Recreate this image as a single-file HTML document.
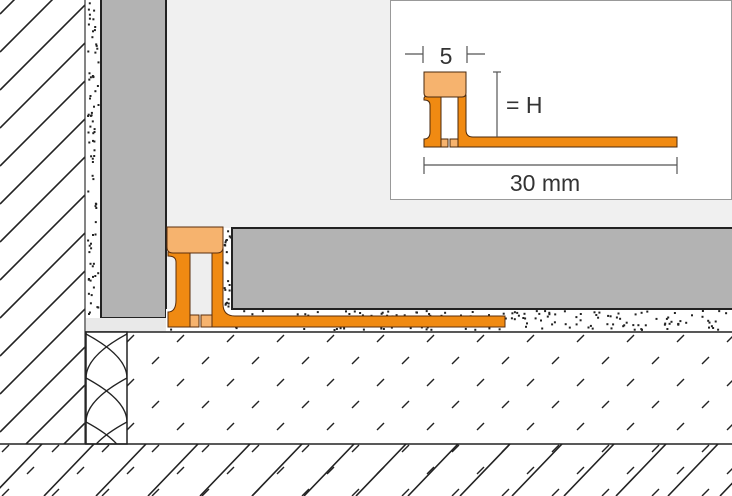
<!DOCTYPE html>
<html><head><meta charset="utf-8"><style>
html,body{margin:0;padding:0;background:#fff;width:732px;height:496px;overflow:hidden;}
svg{display:block;}
text{font-family:"Liberation Sans",sans-serif;fill:#333;}
</style></head><body>
<svg id="s" width="732" height="496" viewBox="0 0 732 496" xmlns="http://www.w3.org/2000/svg">
<defs>
<clipPath id="cw"><rect x="0" y="0" width="85" height="444"/></clipPath>
<clipPath id="cb"><rect x="0" y="444" width="732" height="52"/></clipPath>
<clipPath id="ci"><rect x="86" y="333" width="41" height="111"/></clipPath>
<pattern id="dash" x="0" y="0" width="50" height="44" patternUnits="userSpaceOnUse">
<line x1="2" y1="12" x2="9" y2="5" stroke="#222" stroke-width="1.4"/>
<line x1="27" y1="34" x2="34" y2="27" stroke="#222" stroke-width="1.4"/>
</pattern>
</defs>
<rect x="166" y="0" width="566" height="332" fill="#f0f0f0"/>
<rect x="0" y="0" width="85" height="444" fill="#fff"/>
<g clip-path="url(#cw)" stroke="#222" stroke-width="1.6" id="wallh"></g>
<line x1="85" y1="0" x2="85" y2="444" stroke="#333" stroke-width="1.2"/>
<rect x="86" y="0" width="14" height="318" fill="#fff"/>
<g id="dots"></g>
<rect x="101" y="-2" width="65" height="320" fill="#b3b3b3" stroke="#222" stroke-width="2"/>
<rect x="86" y="318" width="80" height="14" fill="#e9e9e9"/>
<rect x="166" y="309" width="566" height="22" fill="#fff"/>
<rect x="222" y="228" width="10" height="82" fill="#fff"/>
<g id="dots2"></g>
<rect x="232" y="228" width="502" height="81" fill="#b3b3b3" stroke="#222" stroke-width="2"/>
<rect x="127" y="332" width="605" height="112" fill="url(#dash)"/>
<line x1="85" y1="332" x2="732" y2="332" stroke="#222" stroke-width="1.5"/>
<rect x="86" y="332" width="41" height="112" fill="#fff" stroke="#222" stroke-width="1.5"/>
<g clip-path="url(#ci)" fill="none" stroke="#222" stroke-width="1.4" id="ins"></g>
<rect x="0" y="444" width="732" height="52" fill="url(#dash)"/>
<g clip-path="url(#cb)" stroke="#222" stroke-width="1.6" id="slabh"></g>
<line x1="0" y1="444" x2="732" y2="444" stroke="#222" stroke-width="1.5"/>

<g stroke="#5a2e0c" stroke-width="1">
<rect x="190" y="247" width="22" height="80" fill="#eeeeee" stroke="none"/>
<path d="M176 247 H190 V327 H168 V312 Q176 312 176 300 V262 Q176 256 168 256 V252 Q170 247 176 247Z" fill="#f08a12"/>
<path d="M212 247 H223 V304 Q223 316 235 316 H505 V327 H212Z" fill="#f08a12"/>
<rect x="190" y="315" width="9" height="12" fill="#f6b36e"/>
<rect x="201" y="315" width="11" height="12" fill="#f6b36e"/>
<path d="M167 227 H223 V247 Q223 253 217 253 H173 Q167 253 167 247Z" fill="#f6b36e"/>
</g>

<rect x="390.5" y="0.5" width="341" height="199" fill="#fff" stroke="#999"/>
<g stroke="#4a280c" stroke-width="1">
<rect x="441" y="95" width="17" height="52" fill="#fff" stroke="none"/>
<path d="M430 95 H441 V147 H424 V139 Q430 139 430 132 V105 Q430 100 424 100 V98 Q425 95 430 95Z" fill="#f08a12"/>
<path d="M458 95 H466 V130 Q466 137 473 137 H677 V147 H458Z" fill="#f08a12"/>
<rect x="441" y="139" width="7" height="8" fill="#f6b36e"/>
<rect x="450" y="139" width="8" height="8" fill="#f6b36e"/>
<path d="M424 72 H466 V93 Q466 97 462 97 H428 Q424 97 424 93Z" fill="#f6b36e"/>
</g>
<g stroke="#555" stroke-width="1.2" fill="none">
<line x1="405" y1="54" x2="423" y2="54"/><line x1="423" y1="46" x2="423" y2="63"/>
<line x1="467" y1="54" x2="485" y2="54"/><line x1="467" y1="46" x2="467" y2="63"/>
<line x1="497" y1="72" x2="497" y2="137"/><line x1="493" y1="72" x2="501" y2="72"/>
<line x1="424" y1="165" x2="677" y2="165"/><line x1="424" y1="157" x2="424" y2="174"/><line x1="677" y1="157" x2="677" y2="174"/>
</g>
<text x="446" y="64" font-size="23" text-anchor="middle">5</text>
<text x="506" y="113" font-size="23">= H</text>
<text x="545" y="191" font-size="23" text-anchor="middle">30 mm</text>
</svg>
<script>
var NS="http://www.w3.org/2000/svg";
function L(g,x1,y1,x2,y2){var l=document.createElementNS(NS,"line");l.setAttribute("x1",x1);l.setAttribute("y1",y1);l.setAttribute("x2",x2);l.setAttribute("y2",y2);g.appendChild(l);}
var w=document.getElementById("wallh");
for(var y=-100;y<560;y+=38){L(w,0,y,100,y-100);}
var b=document.getElementById("slabh");
for(var x=-60;x<800;x+=52){L(b,x,496,x+50,444);}
var ins=document.getElementById("ins");
var d="";
for(var y=290;y<460;y+=44){d+="M86 "+y+" Q127 "+(y+22)+" 127 "+(y+44)+" ";d+="M127 "+y+" Q86 "+(y+22)+" 86 "+(y+44)+" ";}
var p=document.createElementNS(NS,"path");p.setAttribute("d",d);ins.appendChild(p);
var seed=7;function r(){seed=(seed*9301+49297)%233280;return seed/233280;}
function dots(id,x0,y0,w,h,n){var g=document.getElementById(id);for(var i=0;i<n;i++){var c=document.createElementNS(NS,"rect");c.setAttribute("x",(x0+r()*w).toFixed(1));c.setAttribute("y",(y0+r()*h).toFixed(1));c.setAttribute("width",2);c.setAttribute("height",2);c.setAttribute("fill","#222");g.appendChild(c);}}
dots("dots",87,2,11,314,80);
dots("dots2",168,310,562,19,230);
dots("dots2",223,230,7,78,22);
</script>
</body></html>
